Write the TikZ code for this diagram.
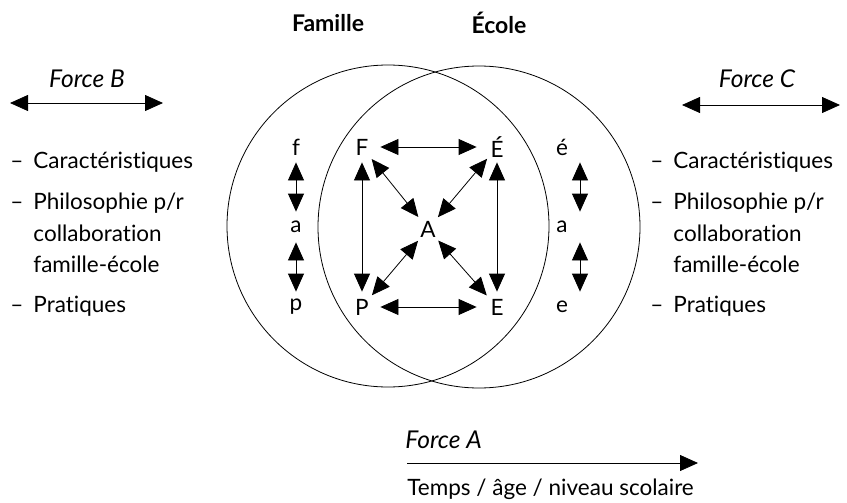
\documentclass[tikz,border=0pt]{standalone}
\usepackage{fontspec}
\setmainfont{Lato}[Ligatures=NoCommon]
\usetikzlibrary{arrows.meta}

\tikzset{
  bigtip/.style={{Triangle[length=18pt,width=16pt]}-{Triangle[length=18pt,width=16pt]}},
  onetip/.style={-{Triangle[length=18pt,width=16pt]}},
  letter/.style={circle, minimum size=30pt, inner sep=0pt},
  title/.style={font=\fontsize{23}{26}\selectfont\bfseries},
  forcelabel/.style={font=\fontsize{24.5}{28}\selectfont\itshape},
}

\begin{document}
\begin{tikzpicture}[x=1pt, y=-1pt, line width=0.8pt, font=\fontsize{22.5}{31.5}\selectfont]
        \useasboundingbox (0,0) rectangle (847,503);

        % Two overlapping circles
        \draw (388,226) circle (161pt);
        \draw (479,227) circle (161pt);

        % Titles
        \node[title] (famille) at (328,23) {Famille};
        \node[title] (ecole) at (499,23) {École};

        % Letters in the middle
        \node[letter] (F) at (362,147) {F};
        \node[letter] (Eacc) at (497,147) {É};
        \node[letter] (A) at (428,229) {A};
        \node[letter] (P) at (362,307) {P};
        \node[letter] (E) at (497,307) {E};

        % Letters on the left side
        \node[letter] (f) at (296,147) {f};
        \node[letter] (al) at (296,227) {a};
        \node[letter] (p) at (296,307) {p};

        % Letters on the right side
        \node[letter] (eacc) at (562,147) {é};
        \node[letter] (ar) at (562,227) {a};
        \node[letter] (e) at (562,307) {e};

        % Arrows of the square
        \draw[bigtip, shorten <=3pt, shorten >=5pt] (F) -- (Eacc);
        \draw[bigtip, shorten <=3pt, shorten >=5pt] (P) -- (E);
        \draw[bigtip] (F) -- (P);
        \draw[bigtip] (Eacc) -- (E);

        % Arrows to A
        \draw[bigtip] (F) -- (A);
        \draw[bigtip] (Eacc) -- (A);
        \draw[bigtip] (P) -- (A);
        \draw[bigtip] (E) -- (A);

        % Small arrows on the sides
        \draw[bigtip] (f) -- (al);
        \draw[bigtip] (al) -- (p);
        \draw[bigtip] ([xshift=18pt]eacc.south) -- ([xshift=18pt]ar.north);
        \draw[bigtip] ([xshift=18pt]ar.south) -- ([xshift=18pt]e.north);

        % Force B
        \node[forcelabel] (forceB) at (87,79) {Force B};
        \coordinate (bl) at (10,103);
        \coordinate (br) at (163,103);
        \draw[bigtip] (bl) -- (br);
        \node[anchor=base west, inner sep=0pt] (listB) at (10,168) {%
          \begin{tabular}[t]{@{}l@{\hspace{10pt}}l@{}}
            -- & Caractéristiques\\[10pt]
            -- & Philosophie p/r\\
               & collaboration\\
               & famille-école\\[9pt]
            -- & Pratiques
          \end{tabular}};

        % Force C
        \node[forcelabel] (forceC) at (757,79) {Force C};
        \coordinate (cl) at (682,105);
        \coordinate (cr) at (840,105);
        \draw[bigtip] (cl) -- (cr);
        \node[anchor=base west, inner sep=0pt] (listC) at (650,168) {%
          \begin{tabular}[t]{@{}l@{\hspace{10pt}}l@{}}
            -- & Caractéristiques\\[10pt]
            -- & Philosophie p/r\\
               & collaboration\\
               & famille-école\\[9pt]
            -- & Pratiques
          \end{tabular}};

        % Force A
        \node[forcelabel, anchor=west, inner sep=0pt] (forceA) at (405,440) {Force A};
        \coordinate (al0) at (407,463);
        \coordinate (ar0) at (698,463);
        \draw[onetip] (al0) -- (ar0);
        \node[anchor=west, inner sep=0pt] (temps) at (407,489) {Temps / âge / niveau scolaire};
\end{tikzpicture}
\end{document}
